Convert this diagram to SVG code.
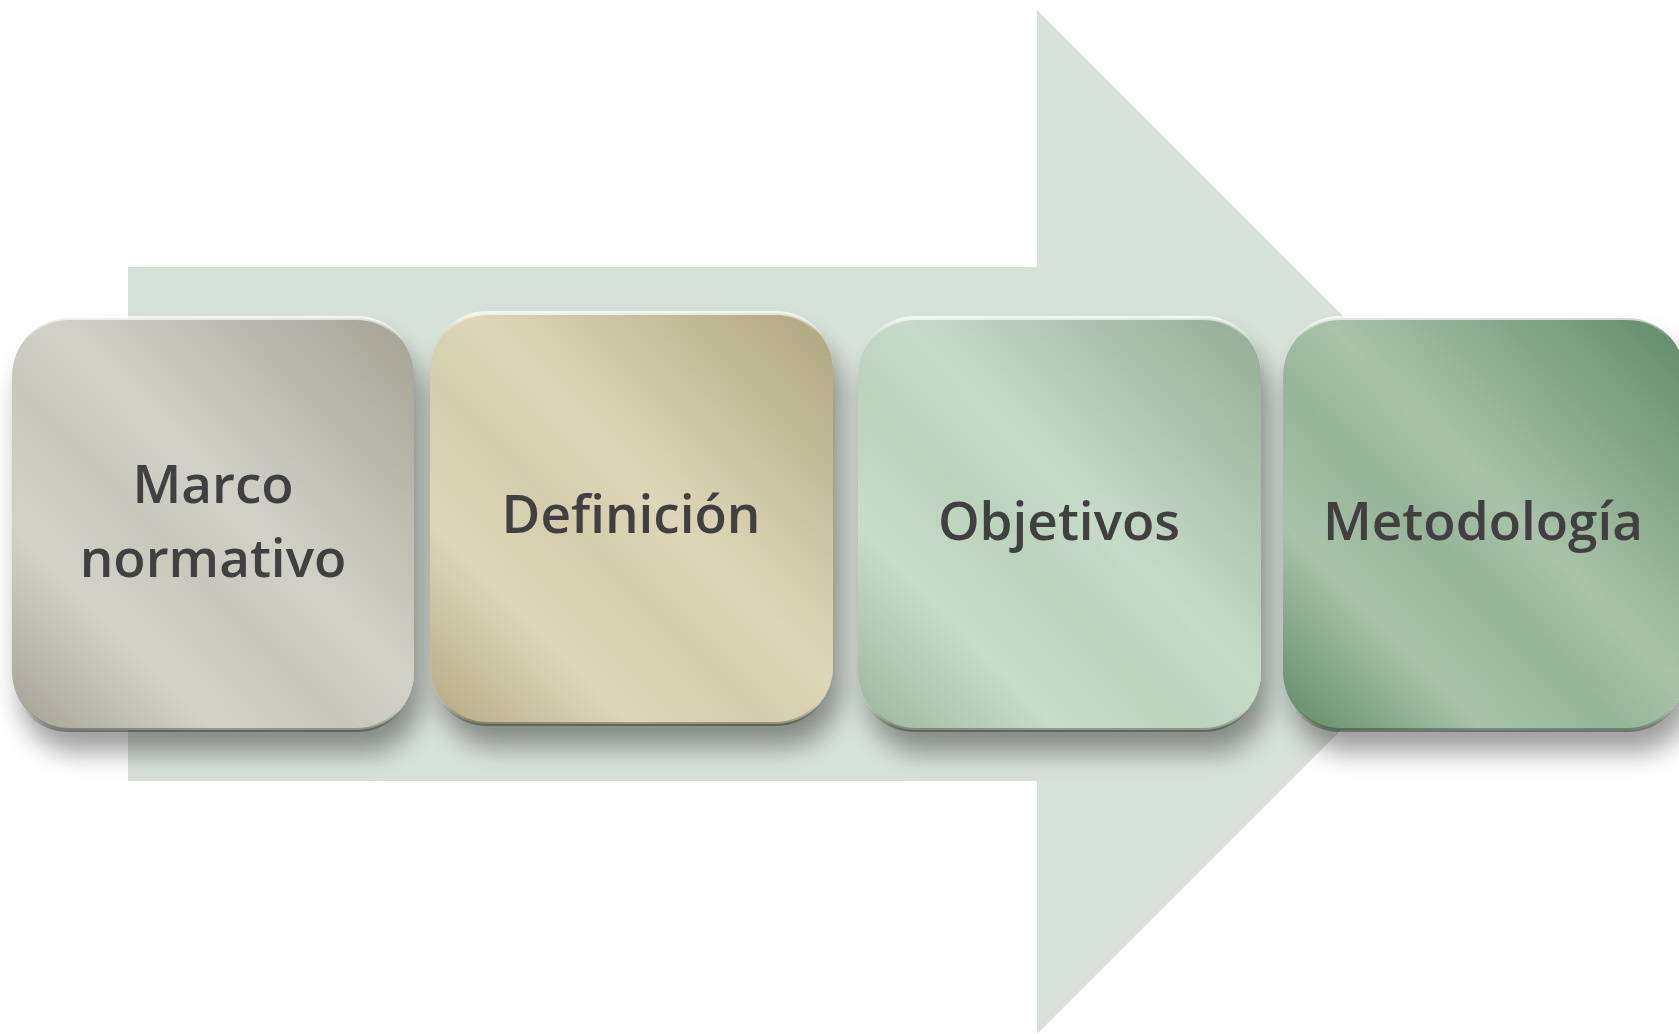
<svg xmlns="http://www.w3.org/2000/svg" width="1679" height="1034" viewBox="0 0 1679 1034">
<defs>
<style>
.lbl{font-family:"Open Sans","DejaVu Sans",sans-serif;font-weight:600;font-size:53px;fill:#404040;text-anchor:middle}
</style>
<filter id="sh" x="-20%" y="-20%" width="140%" height="150%">
<feGaussianBlur in="SourceAlpha" stdDeviation="13"/>
<feOffset dx="8" dy="22" result="b"/>
<feComponentTransfer><feFuncA type="linear" slope="0.38"/></feComponentTransfer>
<feMerge><feMergeNode/><feMergeNode in="SourceGraphic"/></feMerge>
</filter>
<linearGradient id="g1" x1="1" y1="0" x2="0" y2="1">
<stop offset="0" stop-color="#a3a294"/><stop offset="0.45" stop-color="#d1d1c8"/><stop offset="0.58" stop-color="#c7c7bc"/><stop offset="0.75" stop-color="#d2d2c9"/><stop offset="1" stop-color="#a2a192"/>
</linearGradient>
<linearGradient id="g2" x1="1" y1="0" x2="0" y2="1">
<stop offset="0" stop-color="#ada67e"/><stop offset="0.45" stop-color="#ddd7b9"/><stop offset="0.58" stop-color="#d3cdab"/><stop offset="0.75" stop-color="#ddd7ba"/><stop offset="1" stop-color="#b3aa82"/>
</linearGradient>
<linearGradient id="g3" x1="1" y1="0" x2="0" y2="1">
<stop offset="0" stop-color="#93ab95"/><stop offset="0.45" stop-color="#c6dbc8"/><stop offset="0.58" stop-color="#bbd2bd"/><stop offset="0.75" stop-color="#c7dcc9"/><stop offset="1" stop-color="#9cb59e"/>
</linearGradient>
<linearGradient id="g4" x1="1" y1="0" x2="0" y2="1">
<stop offset="0" stop-color="#618a67"/><stop offset="0.45" stop-color="#a8c3a8"/><stop offset="0.58" stop-color="#95b598"/><stop offset="0.75" stop-color="#a8c3a9"/><stop offset="1" stop-color="#5f8a65"/>
</linearGradient>
<linearGradient id="bev" x1="0" y1="0" x2="0" y2="1">
<stop offset="0" stop-color="#ffffff" stop-opacity="0.7"/><stop offset="0.05" stop-color="#ffffff" stop-opacity="0"/><stop offset="0.95" stop-color="#000000" stop-opacity="0"/><stop offset="1" stop-color="#000000" stop-opacity="0.3"/>
</linearGradient>
</defs>
<rect width="1679" height="1034" fill="#ffffff"/>
<g id="arrow">
<polygon points="128,267 1037,267 1037,10 1549,522 1037,1034 1037,781 128,781" fill="#d6e1d8"/>
</g>
<g id="connectors"/>
<g id="node1" filter="url(#sh)">
<rect x="12" y="318" width="402" height="412" rx="58" fill="url(#g1)"/>
<rect x="12" y="318" width="402" height="412" rx="58" fill="none" stroke="url(#bev)" stroke-width="4"/>
<text class="lbl" x="213" y="503">Marco</text>
<text class="lbl" x="213" y="577">normativo</text>
</g>
<g id="node2" filter="url(#sh)">
<rect x="430" y="313" width="403" height="411" rx="58" fill="url(#g2)"/>
<rect x="430" y="313" width="403" height="411" rx="58" fill="none" stroke="url(#bev)" stroke-width="4"/>
<text class="lbl" x="631" y="533">Definición</text>
</g>
<g id="node3" filter="url(#sh)">
<rect x="858" y="318" width="403" height="412" rx="58" fill="url(#g3)"/>
<rect x="858" y="318" width="403" height="412" rx="58" fill="none" stroke="url(#bev)" stroke-width="4"/>
<text class="lbl" x="1059" y="540">Objetivos</text>
</g>
<g id="node4" filter="url(#sh)">
<rect x="1283" y="318" width="402" height="412" rx="58" fill="url(#g4)"/>
<rect x="1283" y="318" width="402" height="412" rx="58" fill="none" stroke="url(#bev)" stroke-width="4"/>
<text class="lbl" x="1483" y="540">Metodología</text>
</g>
</svg>
